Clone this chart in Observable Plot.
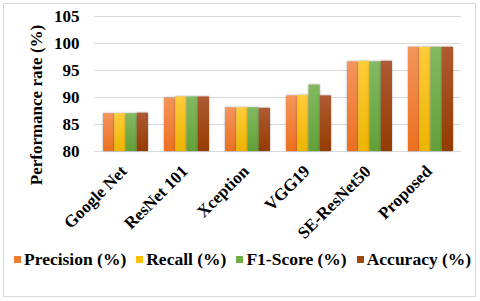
<!DOCTYPE html>
<html>
<head>
<meta charset="utf-8">
<script src="https://cdn.jsdelivr.net/npm/d3@7"></script>
<script src="https://cdn.jsdelivr.net/npm/@observablehq/plot@0.6"></script>
<style>
  html, body { margin: 0; padding: 0; background: #fff; }
  #page { position: relative; width: 480px; height: 301px; overflow: hidden; font-family: "Liberation Serif", "Times New Roman", serif; font-weight: bold; color: #000; }
  #frame { position: absolute; left: 3px; top: 3px; width: 473px; height: 294px; border: 1px solid #d9d9d9; box-sizing: border-box; }
  #chart { position: absolute; left: 0; top: 0; }
  #ytitle { position: absolute; left: 37px; top: 105px; transform: translate(-50%, -50%) rotate(-90deg); white-space: nowrap; font-size: 17px; }
  #legend { position: absolute; left: 14px; top: 249px; display: flex; gap: 10px; font-size: 17.5px; white-space: nowrap; }
  #legend span.item { display: inline-flex; align-items: center; }
  #legend span.sw { display: inline-block; width: 7px; height: 7px; margin-right: 3px; }
  #chart g[aria-label="bar"] { filter: drop-shadow(0px 0.5px 1.2px rgba(0,0,0,0.35)); }
</style>
</head>
<body>
<div id="page">
  <div id="frame"></div>
  <div id="chart"></div>
  <div id="ytitle">Performance rate (%)</div>
  <div id="legend"></div>
</div>
<script>
const categories = ["Google Net", "ResNet 101", "Xception", "VGG19", "SE-ResNet50", "Proposed"];
const precision = [87.0, 89.9, 88.1, 90.3, 96.6, 99.3];
const recall    = [87.0, 90.1, 88.1, 90.4, 96.7, 99.3];
const f1score   = [87.0, 90.1, 88.1, 92.3, 96.6, 99.3];
const accuracy  = [87.1, 90.1, 88.0, 90.3, 96.7, 99.3];
const seriesNames = ["Precision (%)", "Recall (%)", "F1-Score (%)", "Accuracy (%)"];
const seriesColors = ["#ED7D31", "#FFC000", "#70AD47", "#9E480E"];
const gradTops = ["#F4955A", "#FFCC3A", "#84BA62", "#AE5A33"];
const gradBottoms = ["#EC7020", "#EDB400", "#62A038", "#943C00"];
const yTicks = [80, 85, 90, 95, 100, 105];

const seriesValues = [precision, recall, f1score, accuracy];
const gradIds = ["gPrec", "gRec", "gF1", "gAcc"];

function defsMark() {
  const defs = d3.create("svg:defs");
  gradIds.forEach((id, j) => {
    const g = defs.append("linearGradient").attr("id", id).attr("x1", 0).attr("y1", 0).attr("x2", 0).attr("y2", 1);
    g.append("stop").attr("offset", "0%").attr("stop-color", gradTops[j]);
    g.append("stop").attr("offset", "100%").attr("stop-color", gradBottoms[j]);
  });
  return defs.node();
}

const barW = 11.25;
const barMarks = seriesValues.map((vals, j) =>
  Plot.barY(categories.map((c, i) => ({category: c, value: vals[i]})), {
    x: "category",
    y1: yTicks[0],
    y2: "value",
    fill: `url(#${gradIds[j]})`,
    insetLeft: j * barW,
    insetRight: (3 - j) * barW
  })
);

const chart = Plot.plot({
  width: 480,
  height: 245,
  marginLeft: 94,
  marginRight: 19,
  marginTop: 16,
  marginBottom: 94,
  style: { fontFamily: "Liberation Serif, Times New Roman, serif", fontWeight: "bold", fontSize: "17px", color: "#000", background: "transparent", overflow: "visible" },
  x: { type: "band", domain: categories, paddingInner: 0.266, paddingOuter: 0.127, axis: null },
  y: { domain: [80, 105], ticks: yTicks, tickSize: 0, tickPadding: 15, label: null },
  marks: [
    defsMark,
    Plot.ruleY(yTicks, { stroke: "#d9d9d9", strokeWidth: 1 }),
    ...barMarks,
    Plot.text(categories, {
      x: d => d,
      y: () => yTicks[0],
      text: d => d,
      rotate: -45,
      textAnchor: "end",
      fontSize: 17,
      fontWeight: "bold",
      fill: "#000",
      dx: -2,
      dy: 17
    })
  ]
});
document.getElementById("chart").appendChild(chart);

const legend = document.getElementById("legend");
seriesNames.forEach((name, j) => {
  const item = document.createElement("span");
  item.className = "item";
  const sw = document.createElement("span");
  sw.className = "sw";
  sw.style.background = seriesColors[j];
  item.appendChild(sw);
  item.appendChild(document.createTextNode(name));
  legend.appendChild(item);
});
</script>
</body>
</html>
